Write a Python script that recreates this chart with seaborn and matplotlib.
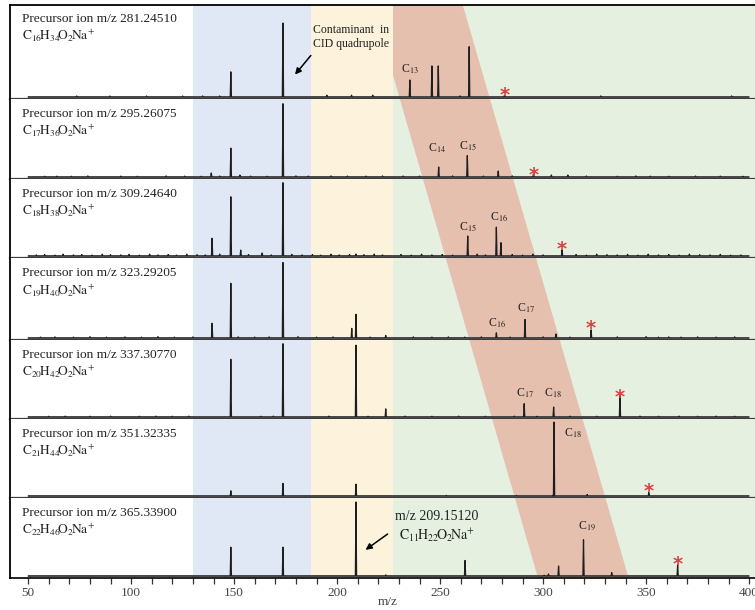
import numpy as np
import pandas as pd
import matplotlib
matplotlib.use('Agg')
import matplotlib.pyplot as plt
import seaborn as sns

# Precursor ions (one panel each)
precursor_mz = [281.24510, 295.26075, 309.24640, 323.29205, 337.30770, 351.32335, 365.33900]
precursor_text = ['281.24510', '295.26075', '309.24640', '323.29205',
                  '337.30770', '351.32335', '365.33900']
formulas = [r'$\mathrm{C_{16}\!H_{34}\!O_{2}\!Na^{+}}$', r'$\mathrm{C_{17}\!H_{36}\!O_{2}\!Na^{+}}$',
            r'$\mathrm{C_{18}\!H_{38}\!O_{2}\!Na^{+}}$', r'$\mathrm{C_{19}\!H_{40}\!O_{2}\!Na^{+}}$',
            r'$\mathrm{C_{20}\!H_{42}\!O_{2}\!Na^{+}}$', r'$\mathrm{C_{21}\!H_{44}\!O_{2}\!Na^{+}}$',
            r'$\mathrm{C_{22}\!H_{46}\!O_{2}\!Na^{+}}$']

# Main peaks, relative intensity (%)
spec1_mz = [148.4, 173.7, 235.3, 246.0, 249.1, 264.1, 281.2]
spec1_int = [34, 100, 23, 42, 42, 68, 2]
spec2_mz = [138.9, 148.4, 152.8, 173.7, 249.3, 263.2, 278.2, 295.3, 304.0, 312.0]
spec2_int = [5.4, 39, 2.7, 99, 13.5, 29, 8, 4, 2.7, 2.7]
spec3_mz = [139.3, 148.4, 153.2, 163.6, 173.7, 209.1, 263.4, 277.3, 279.5, 309.2]
spec3_int = [24, 80, 8, 4, 99, 2.7, 27, 39, 18, 8]
spec4_mz = [139.3, 148.4, 173.7, 207.1, 209.15, 223.6, 277.3, 291.2, 306.2, 323.3]
spec4_int = [20, 74, 102, 13, 32, 3.4, 7, 25, 5.4, 11]
spec5_mz = [148.4, 173.7, 209.15, 223.6, 290.8, 305.1, 337.3]
spec5_int = [78, 99, 97, 11, 18, 13.5, 29]
spec6_mz = [148.4, 173.7, 209.15, 305.3, 321.4, 351.3]
spec6_int = [7, 17, 16, 100, 2, 4.6]
spec7_mz = [148.4, 173.7, 209.15, 223.6, 262.1, 302.6, 307.5, 319.6, 333.3, 365.3]
spec7_int = [39, 39, 100, 1.5, 21, 2.7, 13.5, 49, 4.6, 15]

# Small baseline peaks
noise1_mz = [73.6, 89.7, 107.5, 125, 134.7, 143, 195, 207, 217.3, 259.6, 328, 391.5]
noise1_int = [1.4, 1.4, 1.4, 1.4, 1.4, 1.4, 2.5, 2.5, 2.5, 1.5, 1.5, 1.5]
noise2_mz = [58, 64, 71, 79, 95, 103, 117, 126, 134, 143, 158, 166, 180, 186, 197, 205,
             214, 222, 232, 240, 256, 271, 285, 321, 336, 345, 352, 361, 374, 386, 397]
noise2_int = [1, 1.2, 1, 1.5, 1.2, 1, 1.5, 1.2, 1, 1.3, 1.2, 1, 1.5, 1.2, 1.5, 1.3,
              1.2, 1.5, 1.3, 1.2, 1.5, 1.2, 1.5, 1.3, 1, 1.5, 1.2, 1, 1.3, 1.2, 1]
noise3_mz = [54, 58, 63, 67, 72, 76, 81, 86, 90, 95, 99, 104, 109, 113, 118, 122, 127,
             132, 136, 143, 157, 168, 178, 183, 188, 192, 197, 201, 206, 213, 218, 222,
             231, 236, 241, 246, 251, 256, 268, 272, 285, 290, 295, 300, 316, 321, 326,
             331, 336, 341, 346, 351, 356, 361, 366, 371, 376, 381, 386, 391, 396]
noise3_int = [1.5, 2, 1.2, 2.5, 1.5, 2, 1.2, 2.5, 1.8, 1.5, 2.2, 1.2, 2.5, 1.5, 2, 1.2,
              2.5, 1.8, 1.5, 2.5, 2, 1.5, 2.2, 1.5, 2, 1.2, 2.5, 1.5, 2, 1.8, 2.5, 1.5,
              2, 1.2, 2.5, 1.5, 2, 1.2, 2.5, 1.5, 2, 1.2, 2.5, 1.5, 2, 1.2, 2.5, 1.8,
              1.5, 2.2, 1.2, 2.5, 1.5, 2, 1.2, 2.5, 1.8, 1.5, 2.2, 1.2, 1.5]
noise4_mz = [56, 63, 72, 80, 88, 97, 105, 113, 121, 130, 152, 160, 167, 181, 190, 198,
             216, 237, 246, 254, 262, 270, 284, 300, 313, 336, 350, 356, 361, 367, 375,
             384, 393]
noise4_int = [1.2, 1.5, 1.2, 1.8, 1.2, 1.5, 1.2, 1.8, 1.2, 1.5, 1.5, 1.2, 1.5, 1.8, 1.2,
              1.5, 1.2, 1.5, 1.2, 1.5, 1.2, 1.5, 1.2, 1.5, 1.2, 1.5, 1.8, 1.2, 1.5, 1.2,
              1.5, 1.2, 1.5]
noise5_mz = [60, 68, 80, 90, 104, 112, 120, 128, 163, 169, 196, 215, 233, 246, 259, 272,
             286, 297, 313, 326, 347, 356, 366, 375, 384, 393]
noise5_int = [1, 1.2, 1, 1.2, 1, 1.2, 1, 1.2, 1, 1.2, 1.2, 1, 1.2, 1, 1.2, 1, 1.2, 1,
              1.2, 1, 1.2, 1, 1.2, 1, 1.2, 1]
noise6_mz = [253, 287, 305.0]
noise6_int = [0.8, 0.8, 1.5]
noise7_mz = [300.5]
noise7_int = [1.0]

MZ_MIN, MZ_MAX = 50, 400

spectra = [(spec1_mz, spec1_int, noise1_mz, noise1_int),
           (spec2_mz, spec2_int, noise2_mz, noise2_int),
           (spec3_mz, spec3_int, noise3_mz, noise3_int),
           (spec4_mz, spec4_int, noise4_mz, noise4_int),
           (spec5_mz, spec5_int, noise5_mz, noise5_int),
           (spec6_mz, spec6_int, noise6_mz, noise6_int),
           (spec7_mz, spec7_int, noise7_mz, noise7_int)]

# carbon number labels: (panel, text, m/z, height)
carbon_labels = [(0, 'C$_{13}$', 235.3, 37.4),
                 (1, 'C$_{14}$', 248.4, 38.2), (1, 'C$_{15}$', 263.5, 41.0),
                 (2, 'C$_{15}$', 263.5, 39.0), (2, 'C$_{16}$', 278.5, 53.0),
                 (3, 'C$_{16}$', 277.8, 20.0), (3, 'C$_{17}$', 291.5, 40.5),
                 (4, 'C$_{17}$', 291.2, 32.4), (4, 'C$_{18}$', 304.6, 31.6),
                 (5, 'C$_{18}$', 314.7, 84.7),
                 (6, 'C$_{19}$', 321.1, 68.0)]
star_height = [10.8, 11.2, 17.6, 21.6, 35.0, 14.5, 24.3]


def stick_frame(mz, inten):
    order = np.argsort(mz)
    xs, ys = [MZ_MIN], [0.0]
    for i in order:
        xs += [mz[i] - 0.3, mz[i], mz[i] + 0.3]
        ys += [0.0, inten[i], 0.0]
    xs.append(MZ_MAX)
    ys.append(0.0)
    return pd.DataFrame({'mz': xs, 'intensity': ys})


sns.set_style('white')
plt.rcParams['font.family'] = ['Liberation Serif', 'DejaVu Serif']
plt.rcParams['mathtext.fontset'] = 'stix'

W, H = 755, 610
fig = plt.figure(figsize=(W / 100, H / 100), dpi=100)

bounds = [5, 99, 179, 258, 340, 419, 498, 578]
px_per_unit = 0.74  # vertical pixels per % intensity
x_lo, x_hi = 41.2, 408.0
left_px = 10
width_px = (x_hi - x_lo) * 2.06

# shaded regions
blue_span = (130, 187.3)
yellow_span = (187.3, 227)
green_span = (227, x_hi)
red_top = (217.3, 261.0)
red_bottom = (297.5, 341.5)


def red_edge(y, k):
    f = (y - bounds[0]) / (bounds[-1] - bounds[0])
    return red_top[k] + f * (red_bottom[k] - red_top[k])


axes = []
for i in range(7):
    t, b = bounds[i], bounds[i + 1]
    ax = fig.add_axes([left_px / W, 1 - b / H, width_px / W, (b - t) / H])
    axes.append(ax)
    y0 = -2 / px_per_unit
    y1 = (b - t - 2) / px_per_unit
    ax.set_xlim(x_lo, x_hi)
    ax.set_ylim(y0, y1)

    ax.axvspan(*green_span, color='#e5f0e1', lw=0, zorder=0)
    ax.fill([red_edge(t, 0), red_edge(t, 1), red_edge(b, 1), red_edge(b, 0)],
            [y1, y1, y0, y0], color='#e6c0af', lw=0, zorder=0.5)
    ax.axvspan(*blue_span, color='#dfe8f4', lw=0, zorder=1)
    ax.axvspan(*yellow_span, color='#fdf3dc', lw=0, zorder=1)

    mz, inten, nmz, nint = spectra[i]
    df = stick_frame(list(mz) + list(nmz), list(inten) + list(nint))
    ax.hlines(0, MZ_MIN, MZ_MAX, color='#8c8c8c', lw=1.3, zorder=2)
    sns.lineplot(data=df, x='mz', y='intensity', ax=ax, color='#1e1e1e',
                 linewidth=0.9, sort=False, estimator=None, zorder=3)
    ax.set_xlabel('')
    ax.set_ylabel('')
    ax.set_yticks([])

    # precursor text
    top_off = 13.5 if i == 0 else 15
    ax.annotate('Precursor ion m/z ' + precursor_text[i], xy=(0, 1), xycoords='axes fraction',
                xytext=(8.4, -top_off * 0.72), textcoords='offset points',
                ha='left', va='center', fontsize=9.6, color='#222222')
    ax.annotate(formulas[i], xy=(0, 1), xycoords='axes fraction',
                xytext=(8.4, -(top_off + 17) * 0.72), textcoords='offset points',
                ha='left', va='center', fontsize=9.6, color='#222222')

    # precursor asterisk
    ax.annotate('*', xy=(precursor_mz[i], star_height[i]), xytext=(0, -8.5),
                textcoords='offset points', ha='center', va='baseline',
                fontsize=14, fontweight='bold', color='#d8423f',
                family='DejaVu Sans', zorder=4)

    for sp in ['right']:
        ax.spines[sp].set_visible(False)
    ax.spines['left'].set_color('black')
    ax.spines['left'].set_linewidth(1.3)
    ax.spines['top'].set_visible(i == 0)
    ax.spines['top'].set_color('black')
    ax.spines['top'].set_linewidth(1.3)
    if i < 6:
        ax.spines['bottom'].set_color('#3c3c3c')
        ax.spines['bottom'].set_linewidth(1.6)
        ax.set_xticks([])
    else:
        ax.spines['bottom'].set_color('black')
        ax.spines['bottom'].set_linewidth(1.2)
    for sp in ax.spines.values():
        sp.set_zorder(5)

for p, txt, x, y in carbon_labels:
    axes[p].text(x, y, txt, ha='center', va='center', fontsize=8.5, color='#222222', zorder=4)

# annotations
axes[0].text(206.6, 81.5, 'Contaminant  in\nCID quadrupole', ha='center', va='center',
             fontsize=8.5, color='#222222', linespacing=1.25, zorder=4)
axes[0].annotate('', xy=(178.7, 27.4), xytext=(188.1, 59),
                 arrowprops=dict(arrowstyle='-|>', color='black', lw=1.1, mutation_scale=9),
                 zorder=4)
axes[6].text(248.5, 66, 'm/z 209.15120\n' + r'$\mathrm{C_{11}\!H_{22}\!O_{2}\!Na^{+}}$', ha='center',
             va='center', fontsize=10, color='#222222', linespacing=1.3, zorder=4)
axes[6].annotate('', xy=(212.7, 33.2), xytext=(225.6, 58.9),
                 arrowprops=dict(arrowstyle='-|>', color='black', lw=1.1, mutation_scale=9),
                 zorder=4)

ax = axes[6]
ax.set_xticks(np.arange(50, 401, 50))
ax.set_xticks(np.arange(50, 401, 10), minor=True)
ax.tick_params(axis='x', which='both', direction='out', length=4.5, width=0.9,
               color='#333333', bottom=True, labelsize=9.5, labelcolor='#444444', pad=2)
ax.set_xlabel('m/z', fontsize=9.5, color='#444444', labelpad=-2.5)

fig.savefig('out.png', dpi=100)
